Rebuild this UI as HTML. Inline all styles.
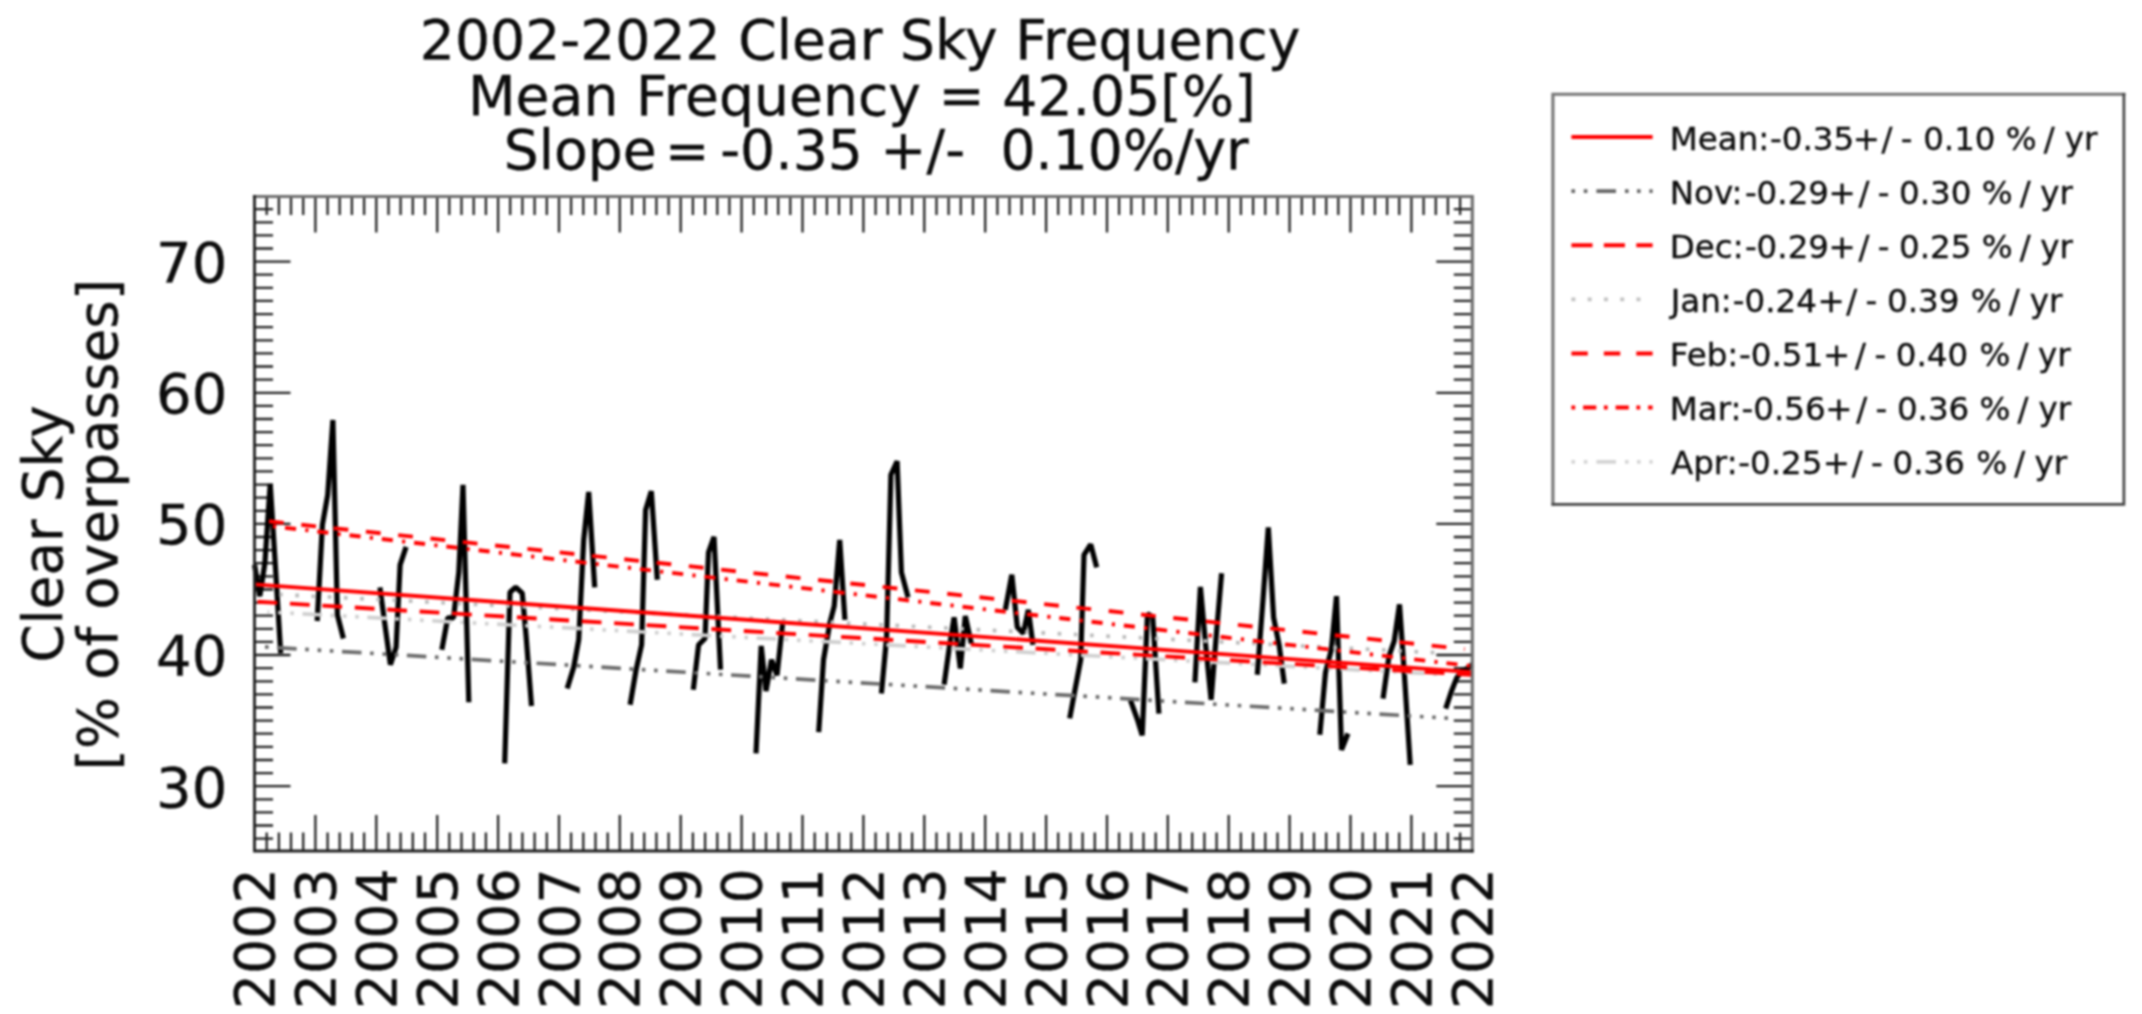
<!DOCTYPE html>
<html lang="en"><head><meta charset="utf-8"><title>2002-2022 Clear Sky Frequency</title>
<style>
html,body{margin:0;padding:0;background:#fff;}
body{width:2142px;height:1014px;overflow:hidden;}
svg{display:block;font-family:"DejaVu Sans","Liberation Sans",sans-serif;fill:#0c0c0c;}
#wrap{width:2142px;height:1014px;filter:blur(0.8px);}
text{stroke:#0c0c0c;stroke-width:0.35px;}
.t{font-size:55.2px;}
.yl{font-size:56px;text-anchor:end;}
.xl{font-size:55.5px;text-anchor:end;}
.al{font-size:54.7px;text-anchor:middle;}
.lg{font-size:32.5px;}
.d{fill:none;stroke:#000;stroke-width:5.2;stroke-linejoin:bevel;stroke-linecap:butt;}
.tk{stroke:#222;stroke-width:2.3;fill:none;}
.ax{stroke:#333;stroke-width:3;fill:none;}
.r{stroke:#ff0000;stroke-width:3.9;fill:none;}
</style></head><body><div id="wrap">
<svg width="2142" height="1014" viewBox="0 0 2142 1014">
<rect width="2142" height="1014" fill="#fff"/>
<text class="t" x="419.8" y="59">2002-2022 Clear Sky Frequency</text>
<text class="t" x="468" y="114.6">Mean Frequency = 42.05[%]</text>
<text class="t" y="168.6"><tspan x="503.7">Slope </tspan><tspan x="665.3" font-size="52.5">= </tspan><tspan x="720.2">-0.35 </tspan><tspan x="880.3">+/-  </tspan><tspan x="1000.4" letter-spacing="-0.15">0.10%/yr</tspan></text>
<text class="al" transform="translate(61.5,534) rotate(-90)">Clear Sky</text>
<text class="al" transform="translate(116.5,524.7) rotate(-90)">[% of overpasses]</text>
<text class="yl" x="227.3" y="282">70</text>
<text class="yl" x="227.3" y="413.1">60</text>
<text class="yl" x="227.3" y="544.3">50</text>
<text class="yl" x="227.3" y="675.4">40</text>
<text class="yl" x="227.3" y="806.6">30</text>
<text class="xl" transform="translate(274,868.1) rotate(-90)">2002</text>
<text class="xl" transform="translate(334.9,868.1) rotate(-90)">2003</text>
<text class="xl" transform="translate(395.8,868.1) rotate(-90)">2004</text>
<text class="xl" transform="translate(456.7,868.1) rotate(-90)">2005</text>
<text class="xl" transform="translate(517.6,868.1) rotate(-90)">2006</text>
<text class="xl" transform="translate(578.5,868.1) rotate(-90)">2007</text>
<text class="xl" transform="translate(639.3,868.1) rotate(-90)">2008</text>
<text class="xl" transform="translate(700.2,868.1) rotate(-90)">2009</text>
<text class="xl" transform="translate(761.1,868.1) rotate(-90)">2010</text>
<text class="xl" transform="translate(822,868.1) rotate(-90)">2011</text>
<text class="xl" transform="translate(882.9,868.1) rotate(-90)">2012</text>
<text class="xl" transform="translate(943.8,868.1) rotate(-90)">2013</text>
<text class="xl" transform="translate(1004.7,868.1) rotate(-90)">2014</text>
<text class="xl" transform="translate(1065.6,868.1) rotate(-90)">2015</text>
<text class="xl" transform="translate(1126.5,868.1) rotate(-90)">2016</text>
<text class="xl" transform="translate(1187.3,868.1) rotate(-90)">2017</text>
<text class="xl" transform="translate(1248.2,868.1) rotate(-90)">2018</text>
<text class="xl" transform="translate(1309.1,868.1) rotate(-90)">2019</text>
<text class="xl" transform="translate(1370,868.1) rotate(-90)">2020</text>
<text class="xl" transform="translate(1430.9,868.1) rotate(-90)">2021</text>
<text class="xl" transform="translate(1491.8,868.1) rotate(-90)">2022</text>
<path class="tk" d="M266.7 196.5v18.5M266.7 851v-18.5M278.9 196.5v18.5M278.9 851v-18.5M291 196.5v18.5M291 851v-18.5M303.2 196.5v18.5M303.2 851v-18.5M315.4 196.5v36M315.4 851v-36M327.6 196.5v18.5M327.6 851v-18.5M339.7 196.5v18.5M339.7 851v-18.5M351.9 196.5v18.5M351.9 851v-18.5M364.1 196.5v18.5M364.1 851v-18.5M376.3 196.5v36M376.3 851v-36M388.5 196.5v18.5M388.5 851v-18.5M400.6 196.5v18.5M400.6 851v-18.5M412.8 196.5v18.5M412.8 851v-18.5M425 196.5v18.5M425 851v-18.5M437.2 196.5v36M437.2 851v-36M449.3 196.5v18.5M449.3 851v-18.5M461.5 196.5v18.5M461.5 851v-18.5M473.7 196.5v18.5M473.7 851v-18.5M485.9 196.5v18.5M485.9 851v-18.5M498.1 196.5v36M498.1 851v-36M510.2 196.5v18.5M510.2 851v-18.5M522.4 196.5v18.5M522.4 851v-18.5M534.6 196.5v18.5M534.6 851v-18.5M546.8 196.5v18.5M546.8 851v-18.5M559 196.5v36M559 851v-36M571.1 196.5v18.5M571.1 851v-18.5M583.3 196.5v18.5M583.3 851v-18.5M595.5 196.5v18.5M595.5 851v-18.5M607.7 196.5v18.5M607.7 851v-18.5M619.8 196.5v36M619.8 851v-36M632 196.5v18.5M632 851v-18.5M644.2 196.5v18.5M644.2 851v-18.5M656.4 196.5v18.5M656.4 851v-18.5M668.6 196.5v18.5M668.6 851v-18.5M680.7 196.5v36M680.7 851v-36M692.9 196.5v18.5M692.9 851v-18.5M705.1 196.5v18.5M705.1 851v-18.5M717.3 196.5v18.5M717.3 851v-18.5M729.4 196.5v18.5M729.4 851v-18.5M741.6 196.5v36M741.6 851v-36M753.8 196.5v18.5M753.8 851v-18.5M766 196.5v18.5M766 851v-18.5M778.2 196.5v18.5M778.2 851v-18.5M790.3 196.5v18.5M790.3 851v-18.5M802.5 196.5v36M802.5 851v-36M814.7 196.5v18.5M814.7 851v-18.5M826.9 196.5v18.5M826.9 851v-18.5M839 196.5v18.5M839 851v-18.5M851.2 196.5v18.5M851.2 851v-18.5M863.4 196.5v36M863.4 851v-36M875.6 196.5v18.5M875.6 851v-18.5M887.8 196.5v18.5M887.8 851v-18.5M899.9 196.5v18.5M899.9 851v-18.5M912.1 196.5v18.5M912.1 851v-18.5M924.3 196.5v36M924.3 851v-36M936.5 196.5v18.5M936.5 851v-18.5M948.6 196.5v18.5M948.6 851v-18.5M960.8 196.5v18.5M960.8 851v-18.5M973 196.5v18.5M973 851v-18.5M985.2 196.5v36M985.2 851v-36M997.4 196.5v18.5M997.4 851v-18.5M1009.5 196.5v18.5M1009.5 851v-18.5M1021.7 196.5v18.5M1021.7 851v-18.5M1033.9 196.5v18.5M1033.9 851v-18.5M1046.1 196.5v36M1046.1 851v-36M1058.2 196.5v18.5M1058.2 851v-18.5M1070.4 196.5v18.5M1070.4 851v-18.5M1082.6 196.5v18.5M1082.6 851v-18.5M1094.8 196.5v18.5M1094.8 851v-18.5M1107 196.5v36M1107 851v-36M1119.1 196.5v18.5M1119.1 851v-18.5M1131.3 196.5v18.5M1131.3 851v-18.5M1143.5 196.5v18.5M1143.5 851v-18.5M1155.7 196.5v18.5M1155.7 851v-18.5M1167.8 196.5v36M1167.8 851v-36M1180 196.5v18.5M1180 851v-18.5M1192.2 196.5v18.5M1192.2 851v-18.5M1204.4 196.5v18.5M1204.4 851v-18.5M1216.6 196.5v18.5M1216.6 851v-18.5M1228.7 196.5v36M1228.7 851v-36M1240.9 196.5v18.5M1240.9 851v-18.5M1253.1 196.5v18.5M1253.1 851v-18.5M1265.3 196.5v18.5M1265.3 851v-18.5M1277.5 196.5v18.5M1277.5 851v-18.5M1289.6 196.5v36M1289.6 851v-36M1301.8 196.5v18.5M1301.8 851v-18.5M1314 196.5v18.5M1314 851v-18.5M1326.2 196.5v18.5M1326.2 851v-18.5M1338.3 196.5v18.5M1338.3 851v-18.5M1350.5 196.5v36M1350.5 851v-36M1362.7 196.5v18.5M1362.7 851v-18.5M1374.9 196.5v18.5M1374.9 851v-18.5M1387.1 196.5v18.5M1387.1 851v-18.5M1399.2 196.5v18.5M1399.2 851v-18.5M1411.4 196.5v36M1411.4 851v-36M1423.6 196.5v18.5M1423.6 851v-18.5M1435.8 196.5v18.5M1435.8 851v-18.5M1447.9 196.5v18.5M1447.9 851v-18.5M1460.1 196.5v18.5M1460.1 851v-18.5M254.5 838.7h18.5M1472.3 838.7h-18.5M254.5 825.5h18.5M1472.3 825.5h-18.5M254.5 812.4h18.5M1472.3 812.4h-18.5M254.5 799.3h18.5M1472.3 799.3h-18.5M254.5 786.2h36M1472.3 786.2h-36M254.5 773.1h18.5M1472.3 773.1h-18.5M254.5 760h18.5M1472.3 760h-18.5M254.5 746.9h18.5M1472.3 746.9h-18.5M254.5 733.7h18.5M1472.3 733.7h-18.5M254.5 720.6h18.5M1472.3 720.6h-18.5M254.5 707.5h18.5M1472.3 707.5h-18.5M254.5 694.4h18.5M1472.3 694.4h-18.5M254.5 681.3h18.5M1472.3 681.3h-18.5M254.5 668.2h18.5M1472.3 668.2h-18.5M254.5 655h36M1472.3 655h-36M254.5 641.9h18.5M1472.3 641.9h-18.5M254.5 628.8h18.5M1472.3 628.8h-18.5M254.5 615.7h18.5M1472.3 615.7h-18.5M254.5 602.6h18.5M1472.3 602.6h-18.5M254.5 589.5h18.5M1472.3 589.5h-18.5M254.5 576.4h18.5M1472.3 576.4h-18.5M254.5 563.2h18.5M1472.3 563.2h-18.5M254.5 550.1h18.5M1472.3 550.1h-18.5M254.5 537h18.5M1472.3 537h-18.5M254.5 523.9h36M1472.3 523.9h-36M254.5 510.8h18.5M1472.3 510.8h-18.5M254.5 497.7h18.5M1472.3 497.7h-18.5M254.5 484.6h18.5M1472.3 484.6h-18.5M254.5 471.4h18.5M1472.3 471.4h-18.5M254.5 458.3h18.5M1472.3 458.3h-18.5M254.5 445.2h18.5M1472.3 445.2h-18.5M254.5 432.1h18.5M1472.3 432.1h-18.5M254.5 419h18.5M1472.3 419h-18.5M254.5 405.9h18.5M1472.3 405.9h-18.5M254.5 392.8h36M1472.3 392.8h-36M254.5 379.6h18.5M1472.3 379.6h-18.5M254.5 366.5h18.5M1472.3 366.5h-18.5M254.5 353.4h18.5M1472.3 353.4h-18.5M254.5 340.3h18.5M1472.3 340.3h-18.5M254.5 327.2h18.5M1472.3 327.2h-18.5M254.5 314.1h18.5M1472.3 314.1h-18.5M254.5 300.9h18.5M1472.3 300.9h-18.5M254.5 287.8h18.5M1472.3 287.8h-18.5M254.5 274.7h18.5M1472.3 274.7h-18.5M254.5 261.6h36M1472.3 261.6h-36M254.5 248.5h18.5M1472.3 248.5h-18.5M254.5 235.4h18.5M1472.3 235.4h-18.5M254.5 222.3h18.5M1472.3 222.3h-18.5M254.5 209.1h18.5M1472.3 209.1h-18.5"/>
<path class="d" d="M254.5 564.7L259.8 596.2L264.9 562.9L270.2 483.8L275.4 566.6L280.7 653.4M317.2 621L322.4 524.9L327.7 494.9L332.9 420L337.4 614.8L343.4 638.5M379.9 587.3L385.1 626L390.4 664.7L396.1 647.3L400.1 564.8L406.1 546.9M441.8 649.8L447.8 617.8L453.5 617.8L458.8 572.3L463 484.9L468.8 702.2M504.7 763.4L510 592.3L515.7 587.3L522.2 593.1L526.2 637.3L531.5 706M567.2 688.5L573.7 667.2L578.7 639.8L583.7 539.9L588.7 491.9L594.7 587.3M630.1 704.7L636.1 669.7L641.6 644.8L645.6 509.9L651.3 491.2L657.3 579.8M693.3 689.7L698.6 644.8L705 638.5L708.5 552.4L714 536.9L720.5 669.7M756 753.4L761.2 646L766 691L771.5 659.8L777 675.2L782.5 624.3M818.7 732.2L823.5 659.8L830 622.3L834.2 606.1L839.7 539.9L844.9 619.8M881.4 693.5L886.6 637.3L890.9 474.9L897.1 461.2L901.4 572.3L908.1 597.3M944.1 684.7L949.3 647.3L954.1 617.3L960.3 668.5L965.3 616L971.3 643.5M1005.3 609.8L1011.8 574.8L1017.3 627.3L1023.3 633.5L1028.3 609.8L1033 644.8M1069.7 718.4L1075 689.7L1080.7 659.8L1084 554.9L1090.7 544.4L1096.7 567.3M1130.5 700.3L1137.5 719.8L1142.2 735.3L1147.5 613.7L1152.7 616.9L1158.9 713.6M1194.9 682.3L1200.4 586.9L1205.4 642.4L1211.1 699.8L1215.9 639.9L1221.6 573.2M1257.3 674.8L1262.8 602.4L1268.3 527.5L1273.6 617.4L1279.1 644.9L1284.3 683.6M1319.8 734.8L1325.5 672.3L1331.3 649.9L1336.5 596.2L1341.5 749.8L1348 733.5M1383 698.6L1389 656.1L1394.2 641.1L1399.5 604.4L1404.4 674.8L1410.2 764.8M1445.7 708.6L1451.1 692.3L1456.4 678.6L1461.6 671.1L1466.9 668.6L1472.6 664.4"/>
<path d="M265 646.9L1448 718.2" fill="none" stroke="#6c6c6c" stroke-width="3.7" stroke-dasharray="3.6 8.6 19.5 8.6 3.6 8.8 3.6 8.66"/>
<path d="M279.3 594.5L1434.5 652.6" fill="none" stroke="#bcbcbc" stroke-width="3.8" stroke-dasharray="3.7 12.54" stroke-dashoffset="0.25"/>
<path d="M267.5 612L1440 674.3" fill="none" stroke="#d0d0d0" stroke-width="3.7" stroke-dasharray="3.6 8.6 19.5 8.6 3.6 8.8 3.6 8.66" stroke-dashoffset="42.1"/>
<path class="r" d="M257.5 601.7L1471.5 674.8" stroke-dasharray="19.8 12.68"/>
<path class="r" d="M269 521.3L1464.6 649.1" stroke-dasharray="14.8 17.68"/>
<path class="r" d="M273 526.3L1471 666" stroke-dasharray="3.2 8.9 11.1 9.28"/>
<path class="r" d="M254.5 584.4L1472 672.1" stroke-width="4.8"/>
<path d="M254.5 196.5H1472.3V851" fill="none" stroke="#6f6f6f" stroke-width="3.2" stroke-linecap="square"/>
<path d="M254.5 196.5V851H1472.3" fill="none" stroke="#1f1f1f" stroke-width="2.8" stroke-linecap="square"/>
<rect x="1552.9" y="94.3" width="571" height="410" fill="#fff"/>
<path d="M1552.9 504.3V94.3H2123.9" fill="none" stroke="#757575" stroke-width="3.1" stroke-linecap="square"/>
<path d="M1552.9 504.3H2123.9V94.3" fill="none" stroke="#444" stroke-width="2.7" stroke-linecap="square"/>
<path d="M1571.4 136.9H1652.6" fill="none" stroke="#ff0000" stroke-width="4.0"/>
<text class="lg" y="149.5"><tspan x="1669.8">Mean:</tspan><tspan x="1770.1">-0.35</tspan><tspan x="1852.8">+</tspan><tspan x="1881.4">/ </tspan><tspan x="1900.7">- </tspan><tspan x="1923.2">0.10 </tspan><tspan x="2005.8">% </tspan><tspan x="2043.8">/ </tspan><tspan x="2064.8">yr</tspan></text>
<path d="M1571.4 191.1H1652.6" fill="none" stroke="#666666" stroke-width="3.8" stroke-dasharray="3.6 8.8 3.6 9 19.6 9 3.6 8.4"/>
<text class="lg" y="203.7"><tspan x="1669.8">Nov:</tspan><tspan x="1744.9">-0.29</tspan><tspan x="1828.6">+</tspan><tspan x="1858.4">/ </tspan><tspan x="1877.7">- </tspan><tspan x="1899">0.30 </tspan><tspan x="1981.7">% </tspan><tspan x="2019.7">/ </tspan><tspan x="2040.2">yr</tspan></text>
<path d="M1571.4 245.2H1652.6" fill="none" stroke="#ff0000" stroke-width="4.0" stroke-dasharray="21.1 11.35"/>
<text class="lg" y="257.8"><tspan x="1669.8">Dec:</tspan><tspan x="1744.9">-0.29</tspan><tspan x="1828.6">+</tspan><tspan x="1858.4">/ </tspan><tspan x="1877.7">- </tspan><tspan x="1899">0.25 </tspan><tspan x="1981.7">% </tspan><tspan x="2019.7">/ </tspan><tspan x="2040.2">yr</tspan></text>
<path d="M1571.4 299.4H1652.6" fill="none" stroke="#c2c2c2" stroke-width="3.8" stroke-dasharray="4 12.27"/>
<text class="lg" y="312"><tspan x="1670.7">Jan:</tspan><tspan x="1732.8">-0.24</tspan><tspan x="1817.6">+</tspan><tspan x="1846.3">/ </tspan><tspan x="1865.6">- </tspan><tspan x="1887">0.39 </tspan><tspan x="1970.7">% </tspan><tspan x="2008.7">/ </tspan><tspan x="2029.7">yr</tspan></text>
<path d="M1571.4 353.5H1652.6" fill="none" stroke="#ff0000" stroke-width="4.0" stroke-dasharray="16.4 16.05"/>
<text class="lg" y="366.1"><tspan x="1669.8">Feb:</tspan><tspan x="1739">-0.51</tspan><tspan x="1823.1">+</tspan><tspan x="1855.1">/ </tspan><tspan x="1874.4">- </tspan><tspan x="1895.8">0.40 </tspan><tspan x="1979.5">% </tspan><tspan x="2017.5">/ </tspan><tspan x="2038">yr</tspan></text>
<path d="M1571.4 407.6H1652.6" fill="none" stroke="#ff0000" stroke-width="4.0" stroke-dasharray="3.8 7.9 13.2 7.6"/>
<text class="lg" y="420.2"><tspan x="1669.8">Mar:</tspan><tspan x="1741.6">-0.56</tspan><tspan x="1825.3">+</tspan><tspan x="1856.2">/ </tspan><tspan x="1875.5">- </tspan><tspan x="1896.9">0.36 </tspan><tspan x="1979.5">% </tspan><tspan x="2017.5">/ </tspan><tspan x="2038.5">yr</tspan></text>
<path d="M1571.4 461.8H1652.6" fill="none" stroke="#d4d4d4" stroke-width="3.8" stroke-dasharray="3.6 8.8 3.6 9 19.6 9 3.6 8.4"/>
<text class="lg" y="474.4"><tspan x="1671">Apr:</tspan><tspan x="1738.3">-0.25</tspan><tspan x="1822.7">+</tspan><tspan x="1851.8">/ </tspan><tspan x="1871.1">- </tspan><tspan x="1892.5">0.36 </tspan><tspan x="1976.2">% </tspan><tspan x="2014.2">/ </tspan><tspan x="2034.5">yr</tspan></text>
</svg>
</div></body></html>
